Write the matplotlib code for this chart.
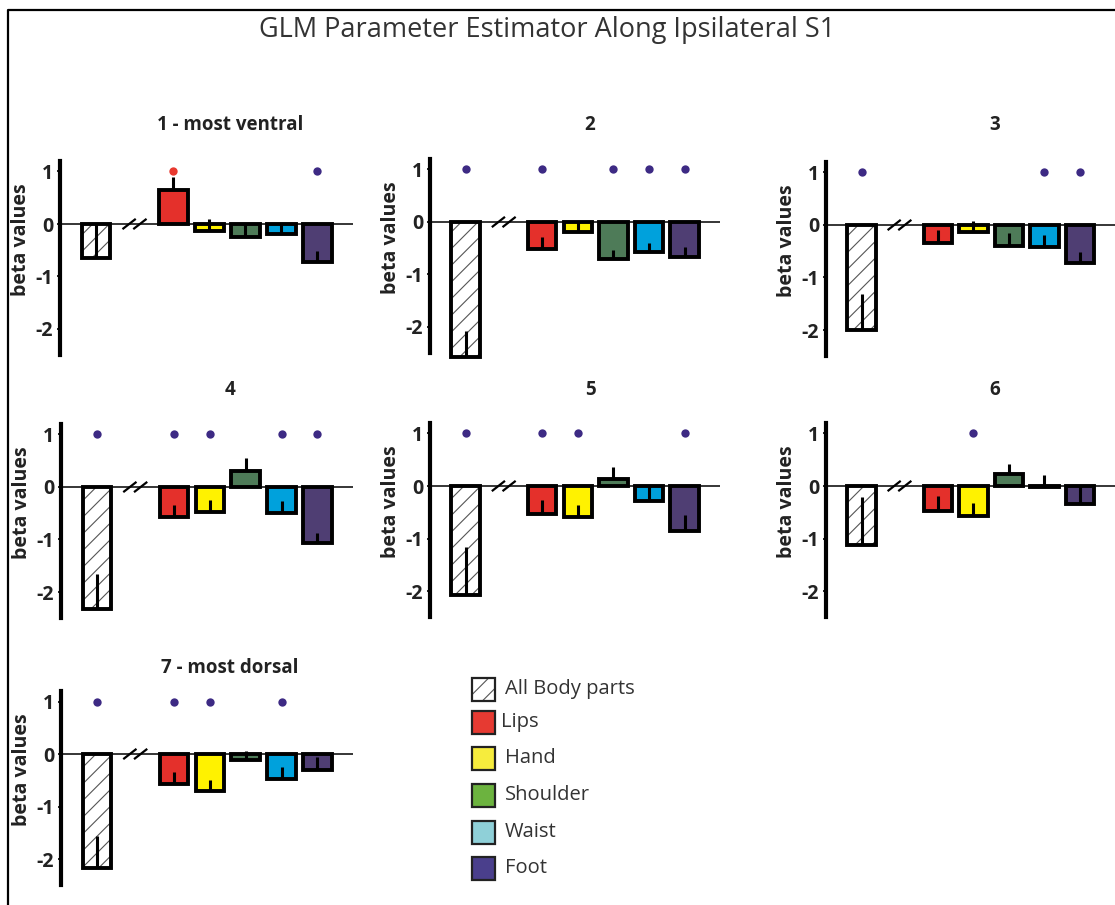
import numpy as np
import matplotlib
matplotlib.use("Agg")
import matplotlib.pyplot as plt
from matplotlib.patches import Rectangle
from matplotlib.lines import Line2D

plt.rcParams['font.family'] = ['Open Sans', 'DejaVu Sans']
plt.rcParams['hatch.linewidth'] = 0.8

# data
parts = ["All Body parts", "Lips", "Hand", "Shoulder", "Waist", "Foot"]
bar_colors = ["white", "#e4302b", "#fff200", "#4e7b58", "#00a1dc", "#4f3e73"]
legend_colors = ["white", "#e63a32", "#f6ec3d", "#6cb33f", "#8fd0d8", "#4a3f8c"]
titles = ["1 - most ventral", "2", "3", "4", "5", "6", "7 - most dorsal"]

beta = [
    [-0.65, 0.65, -0.13, -0.25, -0.19, -0.73],
    [-2.58, -0.51, -0.19, -0.70, -0.57, -0.66],
    [-2.00, -0.35, -0.13, -0.40, -0.42, -0.73],
    [-2.33, -0.57, -0.48, 0.31, -0.50, -1.07],
    [-2.08, -0.53, -0.59, 0.13, -0.28, -0.85],
    [-1.13, -0.47, -0.58, 0.22, -0.02, -0.34],
    [-2.17, -0.58, -0.71, -0.12, -0.47, -0.31],
]
# upward half of the error bar
err = [
    [0.65, 0.25, 0.23, 0.25, 0.19, 0.21],
    [0.51, 0.23, 0.19, 0.17, 0.17, 0.19],
    [0.69, 0.25, 0.20, 0.24, 0.23, 0.21],
    [0.68, 0.22, 0.23, 0.24, 0.23, 0.19],
    [0.91, 0.27, 0.23, 0.23, 0.28, 0.30],
    [0.92, 0.27, 0.25, 0.19, 0.22, 0.34],
    [0.61, 0.23, 0.22, 0.18, 0.23, 0.26],
]
sig = [
    [0, 1, 0, 0, 0, 1],
    [1, 1, 0, 1, 1, 1],
    [1, 0, 0, 0, 1, 1],
    [1, 1, 1, 0, 1, 1],
    [1, 1, 1, 0, 0, 1],
    [0, 0, 1, 0, 0, 0],
    [1, 1, 1, 0, 1, 0],
]
xpos = [0, 2.15, 3.15, 4.15, 5.15, 6.15]

W, H = 1115, 905
fig = plt.figure(figsize=(W / 100, H / 100), dpi=100)

# (left px, right px, zero-line y px)
boxes = [(60, 353, 224), (430, 720, 222), (826, 1115, 225),
         (61, 353, 487), (430, 720, 486), (826, 1115, 486),
         (61, 353, 754)]
title_xy = [(230, 125), (590, 125), (995, 125),
            (230, 390), (590, 390), (995, 390),
            (230, 668)]
unit = 52.5
ymin, ymax = -2.65, 1.25

for i in range(7):
    l, r, z = boxes[i]
    top = z - ymax * unit
    bot = z - ymin * unit
    ax = fig.add_axes([l / W, 1 - bot / H, (r - l) / W, (bot - top) / H])
    ax.set_ylim(ymin, ymax)
    ax.set_xlim(-1.0, 7.14)
    ax.axhline(0, color='k', lw=1.1, zorder=1)

    for j in range(6):
        v = beta[i][j]
        if j == 0:
            ax.bar(xpos[j], v, 0.8, color='white', edgecolor='#555555',
                   hatch='//', linewidth=0, zorder=2)
            ax.bar(xpos[j], v, 0.8, fill=False, edgecolor='k',
                   linewidth=2.8, zorder=4)
        else:
            ax.bar(xpos[j], v, 0.8, color=bar_colors[j], edgecolor='k',
                   linewidth=2.8, zorder=2)
        ax.plot([xpos[j], xpos[j]], [v, v + err[i][j]], color='k',
                lw=2.2, solid_capstyle='butt', zorder=3)
        if sig[i][j]:
            c = '#e8392f' if v > 0 else '#3d2a84'
            ax.plot(xpos[j], 1.0, 'o', color=c, ms=6, mec='none', zorder=5)

    # axis break marks
    for c in [0.92, 1.22]:
        ax.plot([c - 0.16, c + 0.16], [-0.085, 0.085], color='k', lw=1.6,
                zorder=3)

    for s in ['top', 'right', 'bottom']:
        ax.spines[s].set_visible(False)
    ax.spines['left'].set_linewidth(3)
    ax.spines['left'].set_bounds(-2.5, 1.2)
    ax.set_xticks([])
    ax.set_yticks([1, 0, -1, -2])
    ax.set_yticklabels(['1', '0', '-1', '-2'], fontsize=14,
                       fontweight='bold', color='#222222')
    ax.tick_params(axis='y', length=2, width=1.2, pad=3)
    ax.patch.set_alpha(0)

    fig.text((l - 39) / W, 1 - (z + 16) / H, "beta values", rotation=90,
             ha='center', va='center', fontsize=14, fontweight='bold',
             color='#222222')
    tx, ty = title_xy[i]
    fig.text(tx / W, 1 - ty / H, titles[i], ha='center', va='center',
             fontsize=13.5, fontweight='bold', color='#222222')

fig.text(547 / W, 1 - 30 / H, "GLM Parameter Estimator Along Ipsilateral S1",
         ha='center', va='center', fontsize=19.5, color='#333333')

# legend
leg_y = [689, 722, 758, 795, 832, 868]
for k in range(6):
    yc = leg_y[k]
    if k == 0:
        fig.add_artist(Rectangle((472 / W, 1 - (yc + 11.5) / H), 23 / W, 23 / H,
                                 transform=fig.transFigure, facecolor='white',
                                 edgecolor='#555555', hatch='//', linewidth=0))
        fig.add_artist(Rectangle((472 / W, 1 - (yc + 11.5) / H), 23 / W, 23 / H,
                                 transform=fig.transFigure, fill=False,
                                 edgecolor='#222222', linewidth=1.6))
    else:
        fig.add_artist(Rectangle((472 / W, 1 - (yc + 11.5) / H), 23 / W, 23 / H,
                                 transform=fig.transFigure,
                                 facecolor=legend_colors[k],
                                 edgecolor='#222222', linewidth=1.6))
    tx = 501 if parts[k] == "Lips" else 505
    fig.text(tx / W, 1 - yc / H, parts[k], ha='left', va='center',
             fontsize=14.5, color='#333333')

# outer frame (top and left visible)
fig.add_artist(Line2D([8 / W, 8 / W, 1], [0, 1 - 10 / H, 1 - 10 / H],
                      transform=fig.transFigure, color='k', lw=1.6))

fig.savefig("out.png", dpi=100)
